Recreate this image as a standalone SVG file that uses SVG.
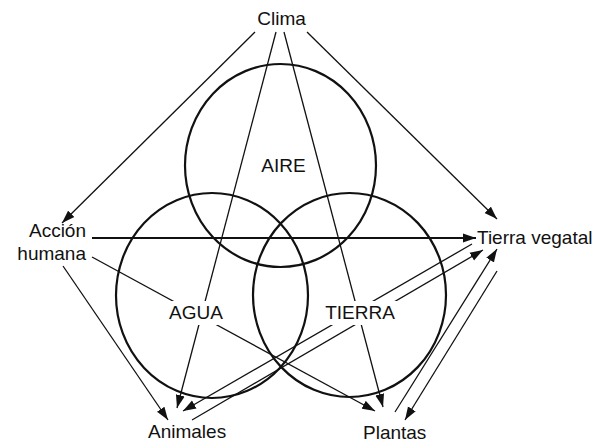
<svg xmlns="http://www.w3.org/2000/svg" width="605" height="444" viewBox="0 0 605 444">
<defs>
<style>
.t{font-family:"Liberation Sans",Arial,Helvetica,sans-serif;font-size:19px;fill:#111}
.c{fill:none;stroke:#111;stroke-width:2.2}
.l{fill:none;stroke:#111;stroke-width:1.3}
.bg{fill:#fff}
</style>
<marker id="a" markerUnits="userSpaceOnUse" markerWidth="14" markerHeight="10" refX="13" refY="5" orient="auto">
<path d="M0,0.5 L13,5 L0,9.5 z" fill="#111"/>
</marker>
</defs>
<rect width="605" height="444" fill="#fff"/>
<g id="connectors" class="l" marker-end="url(#a)">
<line x1="255" y1="32" x2="62" y2="223"/>
<line x1="276" y1="32" x2="177" y2="408"/>
<line x1="284" y1="32" x2="383" y2="407"/>
<line x1="307" y1="32" x2="497" y2="219"/>
<line x1="92" y1="238" x2="476" y2="238" style="stroke-width:2"/>
<line x1="92" y1="257" x2="375" y2="411"/>
<line x1="63" y1="266" x2="168" y2="420"/>
<line x1="472" y1="244" x2="183" y2="411"/>
<line x1="192" y1="420" x2="483" y2="250"/>
<line x1="395" y1="412" x2="497" y2="249"/>
<line x1="497" y1="271" x2="405" y2="420"/>
</g>
<g id="clima"><text class="t" x="281.5" y="25" text-anchor="middle">Clima</text></g>
<g id="accion"><text class="t" x="86" y="237" text-anchor="end">Acción</text><text class="t" x="86" y="260" text-anchor="end">humana</text></g>
<g id="tierra-vegatal"><text class="t" x="477" y="244">Tierra vegatal</text></g>
<g id="animales"><text class="t" x="148" y="438">Animales</text></g>
<g id="plantas"><text class="t" x="363" y="439">Plantas</text></g>
<g id="aire"><ellipse class="c" cx="280.5" cy="165.5" rx="95.5" ry="101.5"/><text class="t" x="283.5" y="172" text-anchor="middle">AIRE</text></g>
<g id="agua"><ellipse class="c" cx="212" cy="295.5" rx="96" ry="102.5"/><rect class="bg" x="166" y="301" width="60" height="24"/><text class="t" x="196" y="319" text-anchor="middle">AGUA</text></g>
<g id="tierra"><ellipse class="c" cx="349.5" cy="295" rx="96.5" ry="102"/><rect class="bg" x="324" y="301" width="73" height="24"/><text class="t" x="360" y="319" text-anchor="middle">TIERRA</text></g>
</svg>
